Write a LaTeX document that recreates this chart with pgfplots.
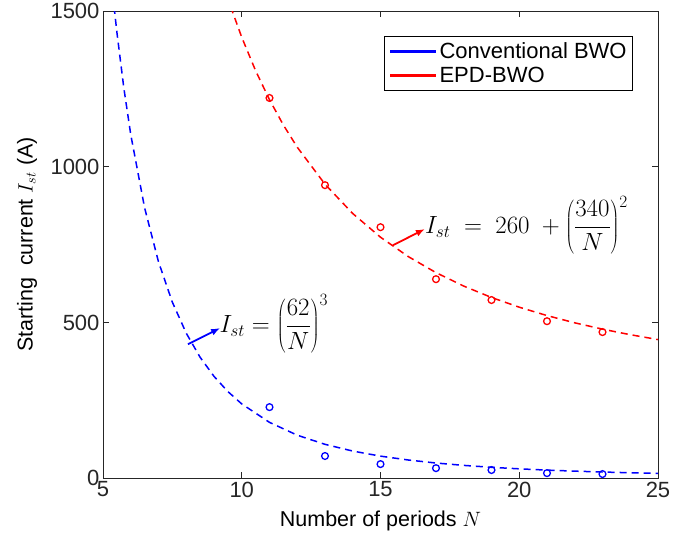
\documentclass[border=0pt]{standalone}
\usepackage{pgfplots}
\pgfplotsset{compat=1.18}
\usepackage{fontspec}
\setmainfont{Liberation Sans}
\usetikzlibrary{arrows.meta}
\definecolor{axgray}{RGB}{38,38,38}

\begin{document}
\begin{tikzpicture}
\begin{axis}[
name=ax,
scale only axis,
width=555pt,
height=467pt,
xmin=5, xmax=25,
ymin=0, ymax=1500,
xtick={5,10,15,20,25},
ytick={0,500,1000,1500},
tick align=inside,
major tick length=6pt,
axis line style={draw=axgray, line width=0.9pt},
tick style={draw=axgray, line width=0.7pt},
/pgf/number format/assume math mode=true,
/pgf/number format/1000 sep={},
ticklabel style={font=\fontsize{22}{24}\selectfont, text=axgray},
xlabel={Number of periods $N$},
ylabel={Starting\ \ current $I_{st}$ (A)},
label style={font=\fontsize{21.5}{24}\selectfont, text=black},
xlabel style={at={(axis description cs:0.5,-0.092)}, anchor=center},
ylabel style={at={(axis description cs:-0.137,0.5)}, anchor=center},
legend style={
  at={(0.955,0.946)}, anchor=north east,
  draw=black, line width=0.8pt,
  font=\fontsize{22}{24}\selectfont,
  inner xsep=4pt, inner ysep=4pt,
  row sep=3pt,
  cells={anchor=west},
},
legend image code/.code={\draw[#1] (0pt,0pt) -- (46pt,0pt);},
]
\addlegendimage{blue, line width=3pt}
\addlegendentry{Conventional BWO}
\addlegendimage{red, line width=3pt}
\addlegendentry{EPD-BWO}

% fitted curves
\addplot[forget plot, blue, line width=1.5pt, dash pattern=on 7pt off 5pt] coordinates {
(5.4,1513.5)(5.5,1432.5)(5.75,1253.7)(6,1103.4)(6.5,867.9)(7,694.8)(7.5,564.9)
(8,465.5)(8.5,388.1)(9,326.9)(9.5,278.0)(10,238.3)(11,179.1)(12,137.9)(13,108.5)
(14,86.9)(15,70.6)(16,58.2)(17,48.5)(18,40.9)(19,34.7)(20,29.8)(21,25.7)(22,22.4)
(23,19.6)(24,17.2)(25,15.3)
};
\addplot[forget plot, red, line width=1.5pt, dash pattern=on 7pt off 5pt] coordinates {
(9.6,1514.3)(10,1416.0)(10.5,1308.5)(11,1215.4)(11.5,1134.1)(12,1062.8)(13,944.0)
(14,849.8)(15,773.8)(16,711.6)(17,660.0)(18,616.8)(19,580.2)(20,549.0)(21,522.1)
(22,498.8)(23,478.5)(24,460.7)(25,445.0)
};

% simulated points
\addplot[forget plot, only marks, blue, mark=o, mark size=3.4pt, line width=1.3pt] coordinates {
(11,228)(13,71)(15,45)(17,32)(19,26)(21,16)(23,13)
};
\addplot[forget plot, only marks, red, mark=o, mark size=3.4pt, line width=1.3pt] coordinates {
(11,1221)(13,941)(15,806)(17,639)(19,572)(21,504)(23,469)
};

\draw[blue, line width=1.8pt, -{Latex[length=9pt,width=7pt]}] (axis cs:8.06,430) -- (axis cs:9.22,482);
\draw[red, line width=1.8pt, -{Latex[length=9pt,width=7pt]}] (axis cs:15.45,748) -- (axis cs:16.6,800);
\node[anchor=west, inner sep=0pt, font=\fontsize{24}{26}\selectfont] at (axis cs:9.2,495)
  {$\displaystyle I_{st}=\left(\frac{62}{N}\right)^{3}$};
\node[anchor=west, inner sep=0pt, font=\fontsize{24}{26}\selectfont] at (axis cs:16.6,812)
  {$\displaystyle I_{st}\ =\ 260\ +\left(\frac{340}{N}\right)^{2}$};
\end{axis}
\path ([shift={(-103pt,-60pt)}]ax.south west) rectangle ([shift={(594pt,477pt)}]ax.south west);
\end{tikzpicture}
\end{document}
